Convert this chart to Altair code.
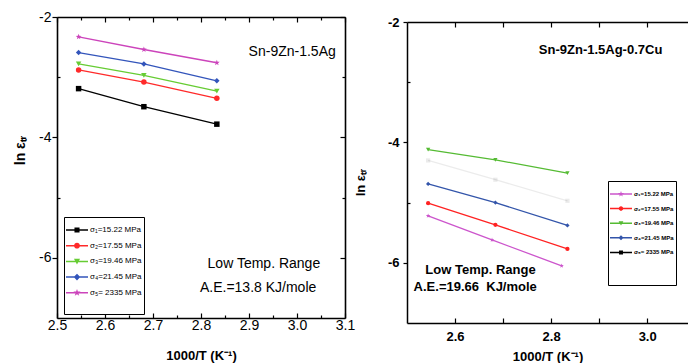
import math
import altair as alt
import pandas as pd

# ---------------- data ----------------
SERIES = ["σ₁=15.22 MPa", "σ₂=17.55 MPa", "σ₃=19.46 MPa", "σ₄=21.45 MPa", "σ₅= 2335 MPa"]

# left panel: Sn-9Zn-1.5Ag
X_LEFT = [2.545, 2.681, 2.833]
LEFT_S1 = [-3.19, -3.49, -3.78]
LEFT_S2 = [-2.88, -3.08, -3.35]
LEFT_S3 = [-2.78, -2.97, -3.23]
LEFT_S4 = [-2.59, -2.78, -3.06]
LEFT_S5 = [-2.33, -2.54, -2.76]

# right panel: Sn-9Zn-1.5Ag-0.7Cu
X_RIGHT = [2.544, 2.684, 2.834]
X_RIGHT_S1 = [2.544, 2.677, 2.822]
RIGHT_S1 = [-5.22, -5.62, -6.05]
RIGHT_S2 = [-5.01, -5.37, -5.77]
RIGHT_S3 = [-4.12, -4.29, -4.51]
RIGHT_S4 = [-4.69, -5.00, -5.38]
RIGHT_S5 = [-4.30, -4.62, -4.97]

LEFT_TEXT = ["Sn-9Zn-1.5Ag", "Low Temp. Range", "A.E.=13.8 KJ/mole"]
LEFT_TEXT_X = [2.99, 2.931, 2.919]
LEFT_TEXT_Y = [-2.58, -6.10, -6.50]
RIGHT_TEXT = ["Sn-9Zn-1.5Ag-0.7Cu", "Low Temp. Range", "A.E.=19.66\u00a0 KJ/mole"]
RIGHT_TEXT_X = [2.903, 2.653, 2.642]
RIGHT_TEXT_Y = [-2.46, -6.12, -6.41]

LEFT_COLORS = ["#000000", "#ff2a2a", "#66cc33", "#3355bb", "#cc44bb"]
RIGHT_COLORS = ["#cc55cc", "#ff2222", "#55bb33", "#3355aa", "#000000"]
LEFT_SHAPES = ["square", "circle", "triangle-down", "diamond", "star"]
RIGHT_SHAPES = ["star", "circle", "triangle-down", "diamond", "square"]

FONT = "Liberation Sans"


def make_df(xlists, ylists):
    rows = []
    for name, xs, ys in zip(SERIES, xlists, ylists):
        for xv, yv in zip(xs, ys):
            rows.append({"x": xv, "y": yv, "s": name})
    return pd.DataFrame(rows)


df_left = make_df([X_LEFT] * 5, [LEFT_S1, LEFT_S2, LEFT_S3, LEFT_S4, LEFT_S5])
df_right = make_df([X_RIGHT_S1, X_RIGHT, X_RIGHT, X_RIGHT, X_RIGHT],
                   [RIGHT_S1, RIGHT_S2, RIGHT_S3, RIGHT_S4, RIGHT_S5])
txt_left = pd.DataFrame({"x": LEFT_TEXT_X, "y": LEFT_TEXT_Y, "t": LEFT_TEXT})
txt_right = pd.DataFrame({"x": RIGHT_TEXT_X, "y": RIGHT_TEXT_Y, "t": RIGHT_TEXT})


# ---------------- symbol paths ----------------
def f(v):
    return f"{v:.3f}"


def star_path(ro, ri):
    pts = []
    for k in range(10):
        r = ro if k % 2 == 0 else ri
        a = math.pi * k / 5
        pts.append((r * math.sin(a), -r * math.cos(a)))
    return "M" + "L".join(f"{f(px)},{f(py)}" for px, py in pts) + "Z"


def data_shape(kind):
    if kind == "star":
        return star_path(1.1, 0.45)
    return kind


def legend_path(kind, m):
    line = "M-1,-0.07H1V0.07H-1Z"
    if kind == "square":
        mk = f"M{f(-m)},{f(-m)}H{f(m)}V{f(m)}H{f(-m)}Z"
    elif kind == "circle":
        r = m * 1.15
        mk = f"M{f(-r)},0A{f(r)},{f(r)},0,1,1,{f(r)},0A{f(r)},{f(r)},0,1,1,{f(-r)},0Z"
    elif kind == "triangle-down":
        mk = f"M{f(-1.2*m)},{f(-m)}H{f(1.2*m)}L0,{f(1.2*m)}Z"
    elif kind == "diamond":
        mk = f"M0,{f(-1.3*m)}L{f(1.3*m)},0L0,{f(1.3*m)}L{f(-1.3*m)},0Z"
    else:
        mk = star_path(1.5 * m, 0.6 * m)
    return line + mk


def ticks(v):
    return alt.ExprRef(expr=str(v))


def panel(df, txt, colors, shapes, cfg):
    xs = alt.Scale(domain=cfg["xdom"], nice=False, zero=False)
    ys = alt.Scale(domain=[-7, -2], nice=False, zero=False)
    cs = alt.Scale(domain=SERIES, range=colors)
    # reversed copy for the unlabelled channels, so their (hidden) legends never merge with the shown one
    cs_rev = alt.Scale(domain=SERIES[::-1], range=colors[::-1])
    lw = cfg["lw"]
    opac = alt.condition(alt.datum.s == SERIES[4], alt.value(cfg["faint"]), alt.value(1))

    ax_bottom = alt.Axis(
        orient="bottom", values=cfg["xmaj"], format=".1f", labelFlush=False, labelOverlap=False,
        labelFont=FONT, labelFontSize=cfg["lfs"], labelFontWeight=cfg["lfw"], labelColor="black",
        labelPadding=cfg["xlp"], tickSize=ticks(-5), tickColor="black", tickWidth=1.2,
        domainColor="black", domainWidth=lw, grid=False,
        title="1000/T (K⁻¹)", titleFont=FONT, titleFontSize=13, titleFontWeight="bold",
        titleColor="black", titleY=cfg["xty"], titleBaseline="middle")
    ax_left = alt.Axis(
        orient="left", values=[-2, -4, -6], labelExpr="'' + datum.value", labelFlush=False,
        labelFont=FONT, labelFontSize=cfg["lfs"], labelFontWeight=cfg["lfw"], labelColor="black",
        labelPadding=cfg["ylp"], tickSize=cfg["yts"], tickColor="black", tickWidth=1.2,
        domainColor="black", domainWidth=lw, grid=False,
        title="ln εₜᵣ", titleFont=FONT, titleFontSize=cfg["ytfs"], titleFontWeight="bold",
        titleColor="black", titleX=cfg["ytx"], titleY=cfg["yty"], titleAngle=270)

    def plain(orient, values, size, domain):
        return alt.Axis(orient=orient, values=values, labels=False, title=None, grid=False,
                        tickSize=ticks(size), tickColor="black", tickWidth=1.2,
                        domain=domain, domainColor="black", domainWidth=lw)

    base = alt.Chart(df)
    layers = []
    layers.append(base.mark_line(strokeWidth=1.3).encode(
        x=alt.X("x:Q", scale=xs, axis=ax_bottom),
        y=alt.Y("y:Q", scale=ys, axis=ax_left),
        stroke=alt.Stroke("s:N", scale=cs_rev, legend=None),
        opacity=opac))
    for name, shp in zip(SERIES, shapes):
        layers.append(base.transform_filter(alt.datum.s == name).mark_point(
            shape=data_shape(shp), filled=True, size=cfg["msize"], opacity=1, strokeWidth=0).encode(
            x=alt.X("x:Q", scale=xs, axis=None),
            y=alt.Y("y:Q", scale=ys, axis=None),
            fill=alt.Fill("s:N", scale=cs_rev, legend=None),
            opacity=opac))
    # mirrored / minor tick axes
    hidden = base.transform_filter("false").mark_point(opacity=0)
    layers.append(hidden.encode(
        x=alt.X("x:Q", scale=xs, axis=plain("top", cfg["xtop"], -5, True)),
        y=alt.Y("y:Q", scale=ys, axis=plain("right", [-2, -4, -6], -5, True) if cfg["right"] else None)))
    layers.append(hidden.encode(
        x=alt.X("x:Q", scale=xs, axis=plain("bottom", cfg["xmin"], -3 if cfg["short"] else -5, False)),
        y=alt.Y("y:Q", scale=ys, axis=plain("left", [-3, -5], -3, False))))
    layers.append(hidden.encode(
        x=alt.X("x:Q", scale=xs, axis=plain("top", cfg["xtopmin"], -3, False) if cfg["xtopmin"] else None),
        y=alt.Y("y:Q", scale=ys, axis=plain("right", [-3, -5], -3, False) if cfg["right"] else None)))
    # legend carrier
    ttl = "\u2003" * cfg["tl"]
    leg = alt.Legend(
        title=ttl, titleOrient="bottom", titleFontSize=10, titlePadding=cfg["tp"],
        orient="none", legendX=cfg["lx"], legendY=cfg["ly"], direction="vertical",
        strokeColor="black", fillColor="white", padding=2,
        symbolSize=484, symbolStrokeWidth=0, symbolOpacity=1,
        labelFont=FONT, labelFontSize=cfg["legfs"], labelFontWeight=cfg["legfw"], labelColor="black",
        labelOffset=2, rowPadding=cfg["rp"])
    paths = [legend_path(k, cfg["m"]) for k in shapes]
    layers.append(base.transform_filter("false").mark_point(filled=True, size=484, opacity=1).encode(
        x=alt.X("x:Q", scale=xs, axis=None),
        y=alt.Y("y:Q", scale=ys, axis=None),
        color=alt.Color("s:N", scale=cs, legend=leg, title=ttl),
        shape=alt.Shape("s:N", scale=alt.Scale(domain=SERIES, range=paths), legend=leg, title=ttl)))
    # annotations
    layers.append(alt.Chart(txt).mark_text(
        font=FONT, fontSize=cfg["afs"], fontWeight=cfg["afw"], color="black").encode(
        x=alt.X("x:Q", scale=xs, axis=None),
        y=alt.Y("y:Q", scale=ys, axis=None),
        text="t:N"))
    return alt.layer(*layers).resolve_axis(x="independent", y="independent").properties(
        width=cfg["w"], height=301)


left_cfg = dict(
    xdom=[2.5, 3.1], w=288, lw=1.6, faint=1,
    xmaj=[2.5, 2.6, 2.7, 2.8, 2.9, 3.0, 3.1], xmin=[2.55, 2.65, 2.75, 2.85, 2.95, 3.05],
    xtop=[2.5, 2.6, 2.7, 2.8, 2.9, 3.0, 3.1], xtopmin=[2.55, 2.65, 2.75, 2.85, 2.95, 3.05],
    short=True, right=True,
    lfs=14, lfw="normal", xlp=5, ylp=1, yts=5, xty=37,
    ytfs=14, ytx=-30, yty=133,
    msize=30, lx=7, ly=200, tl=8, tp=5, rp=0.7, legfs=8, legfw="normal", m=0.23,
    afs=14, afw="normal")
right_cfg = dict(
    xdom=[2.5, 3.085], w=281, lw=1.5, faint=0.08,
    xmaj=[2.6, 2.8, 3.0], xmin=[2.7, 2.9],
    xtop=[2.6, 2.7, 2.8, 2.9, 3.0], xtopmin=[],
    short=False, right=False,
    lfs=13, lfw="bold", xlp=12, ylp=4, yts=4, xty=33,
    ytfs=13, ytx=-40, yty=160,
    msize=18, lx=201, ly=164, tl=8, tp=18, rp=0.6, legfs=6, legfw="bold", m=0.18,
    afs=13, afw="bold")

left = panel(df_left, txt_left, LEFT_COLORS, LEFT_SHAPES, left_cfg)
right = panel(df_right, txt_right, RIGHT_COLORS, RIGHT_SHAPES, right_cfg)
spacer = alt.Chart(pd.DataFrame({"a": [0]})).mark_point(opacity=0).properties(width=1, height=1)
right_col = alt.vconcat(spacer, right, spacing=4, bounds="flush")

chart = alt.hconcat(left, right_col, spacing=62, bounds="flush").resolve_scale(
    color="independent", shape="independent", stroke="independent", fill="independent").properties(
    padding={"left": 13, "top": 10, "right": 0, "bottom": 0}).configure_view(
    stroke=None).configure_axis(grid=False)

chart.save("out.html", embed_options={"renderer": "svg", "actions": False})
